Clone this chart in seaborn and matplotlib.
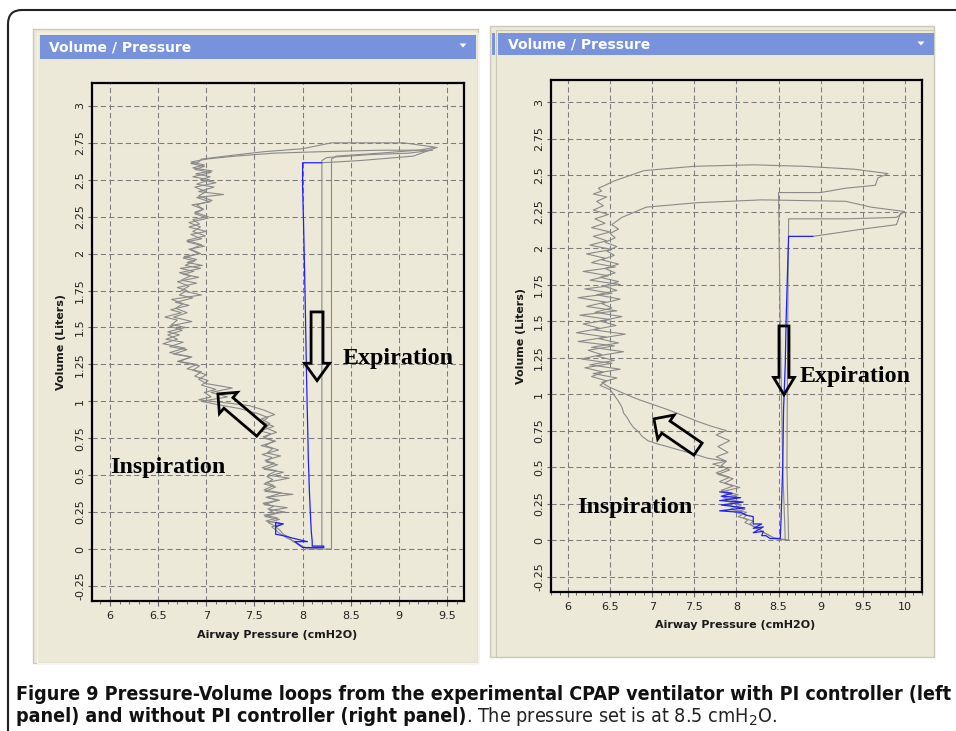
import matplotlib
matplotlib.use("Agg")
import matplotlib.pyplot as plt
import seaborn as sns
import numpy as np
from matplotlib.patches import Rectangle, FancyBboxPatch, Polygon
from matplotlib.transforms import IdentityTransform
from matplotlib.ticker import MultipleLocator

# ---------------- data (pressure cmH2O, volume L) ----------------
left_gray1_p = [8.30, 8.05, 8.00, 7.95, 7.92, 7.85, 7.80, 7.75, 7.72, 7.68,
                7.78, 7.62, 7.74, 7.60, 7.82, 7.64, 7.70, 7.59, 7.76, 7.62, 7.90, 7.61, 7.72, 7.60,
                7.69, 7.63, 7.80, 7.60, 7.74, 7.62, 7.68, 7.58, 7.75, 7.61, 7.70, 7.59, 7.73, 7.62,
                7.66, 7.57, 7.71, 7.60,
                7.45, 7.20, 6.92, 7.05, 6.98, 7.10, 6.95, 7.02,
                6.88, 6.95, 6.80, 6.90, 6.72, 6.84, 6.66, 6.80, 6.62, 6.76, 6.58, 6.72, 6.60, 6.78,
                6.64, 6.70, 6.57, 6.74, 6.63, 6.82, 6.68, 6.86, 6.72, 6.80, 6.70, 6.90, 6.74, 6.84,
                6.72, 6.94, 6.78, 6.88, 6.76, 6.92,
                6.82, 6.98, 6.80, 6.95, 6.84, 7.00, 6.82, 6.93, 6.86, 7.02, 6.88, 6.97, 6.85, 7.04,
                6.90, 7.18, 6.92, 7.08, 6.90, 7.03, 6.86, 7.05, 6.88, 6.98, 6.84, 6.92,
                6.95, 7.20, 7.60, 8.00, 8.30, 9.05, 9.38, 9.20, 8.80, 8.35, 8.30, 8.30]
left_gray1_v = [0.00, 0.00, 0.02, 0.03, 0.05, 0.07, 0.09, 0.11, 0.13, 0.15,
                0.17, 0.19, 0.21, 0.23, 0.25, 0.27, 0.29, 0.31, 0.33, 0.35, 0.37, 0.39, 0.42, 0.44,
                0.47, 0.49, 0.52, 0.54, 0.57, 0.59, 0.62, 0.64, 0.67, 0.70, 0.73, 0.76, 0.79, 0.82,
                0.85, 0.88, 0.91, 0.94,
                0.97, 0.99, 1.01, 1.03, 1.06, 1.08, 1.11, 1.14,
                1.17, 1.20, 1.22, 1.25, 1.27, 1.30, 1.32, 1.35, 1.37, 1.40, 1.42, 1.45, 1.47, 1.50,
                1.52, 1.55, 1.57, 1.60, 1.62, 1.65, 1.67, 1.70, 1.72, 1.75, 1.77, 1.80, 1.82, 1.85,
                1.87, 1.90, 1.92, 1.95, 1.97, 2.00,
                2.03, 2.05, 2.08, 2.10, 2.13, 2.15, 2.18, 2.20, 2.23, 2.25, 2.28, 2.30, 2.33, 2.35,
                2.38, 2.40, 2.42, 2.45, 2.47, 2.50, 2.52, 2.55, 2.57, 2.59, 2.61, 2.62,
                2.64, 2.66, 2.69, 2.71, 2.75, 2.75, 2.72, 2.70, 2.68, 2.66, 2.64, 0.00]

left_gray2_p = [8.20, 8.02, 7.97, 7.90, 7.86, 7.80, 7.76, 7.70,
                7.64, 7.76, 7.61, 7.72, 7.66, 7.84, 7.60, 7.74, 7.63, 7.78, 7.60, 7.70, 7.62, 7.86,
                7.64, 7.73, 7.58, 7.71, 7.61, 7.77, 7.63, 7.69, 7.57, 7.72, 7.60, 7.67, 7.56, 7.70,
                7.58, 7.64, 7.52,
                7.35, 7.10, 6.95, 7.22, 7.05, 7.27, 7.00,
                6.92, 7.00, 6.86, 6.93, 6.70, 6.85, 6.62, 6.78, 6.55, 6.70, 6.60, 6.75, 6.62, 6.85,
                6.66, 6.80, 6.68, 6.76, 6.64, 6.95, 6.74, 6.82, 6.70, 6.92, 6.76, 6.87, 6.73, 6.96,
                6.80, 6.90, 6.77, 6.94,
                6.84, 6.95, 6.80, 6.99, 6.86, 6.94, 6.82, 7.02, 6.88, 6.97, 6.90, 7.06, 6.92, 7.00,
                6.88, 7.10, 6.94, 7.04, 6.89, 7.06, 6.86, 6.98, 6.84,
                7.00, 7.30, 7.70, 8.20, 8.80, 9.35, 9.10, 8.70, 8.25, 8.20, 8.20]
left_gray2_v = [0.00, 0.01, 0.03, 0.05, 0.08, 0.10, 0.13, 0.16,
                0.18, 0.20, 0.22, 0.24, 0.26, 0.28, 0.30, 0.33, 0.35, 0.38, 0.40, 0.43, 0.45, 0.48,
                0.50, 0.53, 0.55, 0.58, 0.60, 0.63, 0.65, 0.68, 0.70, 0.73, 0.75, 0.78, 0.80, 0.83,
                0.86, 0.89, 0.92,
                0.95, 0.98, 1.00, 1.03, 1.06, 1.09, 1.12,
                1.15, 1.18, 1.21, 1.24, 1.27, 1.30, 1.33, 1.36, 1.39, 1.42, 1.45, 1.48, 1.51, 1.54,
                1.57, 1.60, 1.63, 1.66, 1.69, 1.72, 1.75, 1.78, 1.81, 1.84, 1.86, 1.88, 1.90, 1.92,
                1.94, 1.96, 1.98, 2.00,
                2.03, 2.06, 2.09, 2.12, 2.15, 2.18, 2.21, 2.24, 2.27, 2.30, 2.33, 2.36, 2.39, 2.42,
                2.45, 2.48, 2.50, 2.52, 2.54, 2.56, 2.58, 2.60, 2.62,
                2.64, 2.66, 2.68, 2.69, 2.70, 2.70, 2.68, 2.67, 2.65, 2.63, 0.00]

left_gray3_p = [9.40, 9.15, 8.60, 8.20]
left_gray3_v = [2.72, 2.66, 2.63, 2.615]

left_blue_p = [8.20, 8.00, 8.00, 8.01, 8.02, 8.03, 8.04, 8.05, 8.06, 8.07, 8.08, 8.09, 8.10, 8.10,
               8.22, 8.22, 8.00, 7.92, 8.05, 7.92, 7.86, 7.80, 7.72, 7.72, 7.80, 7.72]
left_blue_v = [2.615, 2.615, 2.45, 2.20, 1.90, 1.57, 1.20, 0.90, 0.60, 0.40, 0.25, 0.12, 0.05, 0.02,
               0.02, 0.01, 0.01, 0.05, 0.05, 0.07, 0.08, 0.09, 0.10, 0.18, 0.17, 0.15]

right_gray1_p = [8.58, 8.45, 8.40, 8.33, 8.28, 8.22, 8.16, 8.20, 8.08, 8.12, 7.98, 8.10, 7.90, 8.06,
                 7.84, 8.02, 7.82, 7.96, 7.80, 7.92, 7.76, 7.90, 7.72, 7.88, 7.66,
                 7.55, 7.42, 7.30, 7.18, 7.05, 6.95, 6.88, 6.84, 6.78, 6.74, 6.70, 6.66, 6.64, 6.60,
                 6.55, 6.50,
                 6.38, 6.46, 6.28, 6.42, 6.20, 6.52, 6.16, 6.40, 6.24, 6.55, 6.12, 6.46, 6.10, 6.38,
                 6.18, 6.50, 6.14, 6.58, 6.22, 6.45, 6.12, 6.52, 6.20, 6.62, 6.26, 6.48, 6.18, 6.56,
                 6.28, 6.44, 6.22, 6.52, 6.26, 6.46, 6.30, 6.50, 6.28, 6.44, 6.32, 6.48, 6.30, 6.42,
                 6.34, 6.46, 6.30, 6.40, 6.36, 6.44,
                 6.55, 6.90, 7.50, 8.20, 8.80, 9.40, 9.80, 9.68, 9.65, 9.30, 9.00, 8.50, 8.52, 8.55,
                 8.58]
right_gray1_v = [0.00, 0.01, 0.03, 0.05, 0.07, 0.09, 0.11, 0.13, 0.15, 0.17, 0.19, 0.21, 0.24, 0.26,
                 0.29, 0.31, 0.34, 0.37, 0.40, 0.43, 0.46, 0.49, 0.52, 0.54, 0.56,
                 0.58, 0.60, 0.62, 0.64, 0.66, 0.68, 0.71, 0.74, 0.77, 0.80, 0.84, 0.87, 0.91, 0.95,
                 0.99, 1.03,
                 1.06, 1.09, 1.12, 1.15, 1.18, 1.21, 1.24, 1.27, 1.30, 1.33, 1.36, 1.39, 1.42, 1.45,
                 1.48, 1.51, 1.54, 1.57, 1.60, 1.63, 1.66, 1.69, 1.72, 1.75, 1.78, 1.81, 1.84, 1.87,
                 1.90, 1.93, 1.96, 1.99, 2.02, 2.05, 2.08, 2.11, 2.14, 2.17, 2.20, 2.23, 2.26, 2.29,
                 2.32, 2.35, 2.37, 2.39, 2.41, 2.43,
                 2.46, 2.53, 2.56, 2.57, 2.56, 2.54, 2.51, 2.48, 2.43, 2.41, 2.38, 2.38, 1.50, 0.50,
                 0.00]

right_gray2_p = [8.62, 8.50, 8.42, 8.36, 8.30, 8.24, 8.18, 8.10, 8.14, 8.02, 8.12, 7.92, 8.06, 7.86,
                 8.00, 7.82, 8.04, 7.86, 7.96, 7.78, 7.92, 7.82, 7.88, 7.76, 7.90, 7.78, 7.92, 7.76,
                 7.88,
                 7.70, 7.55, 7.42, 7.29, 7.15, 7.00, 6.85, 6.72, 6.60, 6.48,
                 6.40, 6.58, 6.30, 6.62, 6.26, 6.55, 6.34, 6.66, 6.28, 6.60, 6.36, 6.68, 6.30, 6.57,
                 6.38, 6.64, 6.32, 6.52, 6.40, 6.62, 6.34, 6.58, 6.42, 6.60, 6.38, 6.56, 6.44, 6.60,
                 6.40, 6.55, 6.46, 6.58, 6.44, 6.56, 6.50, 6.60, 6.52,
                 6.64, 6.93, 7.52, 8.30, 9.30, 9.60, 10.00, 9.90, 9.30, 8.62, 8.61, 8.60, 8.62]
right_gray2_v = [0.00, 0.01, 0.02, 0.04, 0.06, 0.08, 0.10, 0.12, 0.14, 0.16, 0.19, 0.21, 0.24, 0.27,
                 0.30, 0.33, 0.36, 0.39, 0.42, 0.45, 0.48, 0.51, 0.54, 0.57, 0.60, 0.64, 0.68, 0.72,
                 0.75,
                 0.78, 0.81, 0.84, 0.87, 0.90, 0.93, 0.96, 0.99, 1.02, 1.05,
                 1.08, 1.11, 1.14, 1.17, 1.20, 1.23, 1.26, 1.29, 1.32, 1.35, 1.38, 1.41, 1.44, 1.47,
                 1.50, 1.53, 1.56, 1.59, 1.62, 1.65, 1.68, 1.71, 1.74, 1.77, 1.80, 1.83, 1.86, 1.89,
                 1.92, 1.95, 1.98, 2.01, 2.04, 2.07, 2.10, 2.13, 2.16,
                 2.21, 2.28, 2.31, 2.33, 2.32, 2.28, 2.25, 2.21, 2.20, 2.20, 1.50, 0.50, 0.00]

right_gray3_p = [9.95, 9.90, 9.50, 8.91]
right_gray3_v = [2.24, 2.16, 2.13, 2.08]

right_blue_p = [8.91, 8.62, 8.61, 8.59, 8.58, 8.56, 8.55, 8.53, 8.52, 8.40, 8.35, 8.30, 8.32, 8.20,
                8.32, 8.20, 8.30, 8.20, 8.20, 8.12, 8.05, 7.80, 8.10, 7.82, 8.08, 7.80, 8.05, 7.82,
                7.95, 7.80]
right_blue_v = [2.08, 2.08, 1.90, 1.50, 1.20, 0.90, 0.50, 0.14, 0.01, 0.01, 0.03, 0.03, 0.06, 0.05,
                0.09, 0.08, 0.11, 0.11, 0.16, 0.17, 0.19, 0.20, 0.22, 0.24, 0.26, 0.27, 0.29, 0.30,
                0.32, 0.33]

left_xticks = [6, 6.5, 7, 7.5, 8, 8.5, 9, 9.5]
left_xticklabels = ["6", "6.5", "7", "7.5", "8", "8.5", "9", "9.5"]
right_xticks = [6, 6.5, 7, 7.5, 8, 8.5, 9, 9.5, 10]
right_xticklabels = ["6", "6.5", "7", "7.5", "8", "8.5", "9", "9.5", "10"]
yticks = [-0.25, 0, 0.25, 0.5, 0.75, 1, 1.25, 1.5, 1.75, 2, 2.25, 2.5, 2.75, 3]
yticklabels = ["-0.25", "0", "0.25", "0.5", "0.75", "1", "1.25", "1.5", "1.75", "2",
               "2.25", "2.5", "2.75", "3"]

panel_title = "Volume / Pressure"
xlabel = "Airway Pressure (cmH2O)"
ylabel = "Volume (Liters)"
caption_bold1 = "Figure 9 Pressure-Volume loops from the experimental CPAP ventilator with PI controller (left"
caption_bold2 = "panel) and without PI controller (right panel)"
caption_norm2 = ". The pressure set is at 8.5 cmH$_2$O."

# ---------------- figure ----------------
sns.set_style("white")
plt.rcParams['font.family'] = ['DejaVu Sans']
W, H = 956, 731
fig = plt.figure(figsize=(W / 100, H / 100), dpi=100)
fig.patch.set_facecolor("white")
ID = IdentityTransform()

BEIGE = "#ECE9D8"
HEAD = "#7893DC"
GRAY = "#8a8a8a"
BLUE = "#1f1fff"


def prect(x0, y0, x1, y1, **kw):
    return Rectangle((x0, H - y1), x1 - x0, y1 - y0, transform=ID, zorder=-5, **kw)


# rounded outer border
fig.add_artist(FancyBboxPatch((8, -30), 1000, H - 10 + 30, boxstyle="round,pad=0,rounding_size=14",
                              transform=ID, fc="none", ec="#222222", lw=1.5, zorder=-6))
# windows
fig.add_artist(prect(33, 29, 478, 663, fc=BEIGE, ec="#cdc9b8", lw=1.0))
fig.add_artist(prect(37, 33, 478, 663, fc="none", ec="#f6f4ec", lw=0.8))
fig.add_artist(prect(490, 26, 934, 657, fc=BEIGE, ec="#cdc9b8", lw=1.0))
fig.add_artist(prect(496, 30, 934, 657, fc="none", ec="#cdc9b8", lw=0.8))
fig.add_artist(prect(491.5, 33, 494.5, 55, fc=HEAD, ec="none"))
# headers
fig.add_artist(prect(40, 35, 476, 59, fc=HEAD, ec="none"))
fig.add_artist(prect(498, 33, 934, 55, fc=HEAD, ec="none"))
fig.text(49 / W, 1 - 47.5 / H, panel_title, color="white", fontsize=10, fontweight="bold",
         ha="left", va="center")
fig.text(508 / W, 1 - 44.5 / H, panel_title, color="white", fontsize=10, fontweight="bold",
         ha="left", va="center")
for cx, cy in [(463, 45.5), (921, 43.5)]:
    fig.add_artist(Polygon([[cx - 3.5, H - cy + 2], [cx + 3.5, H - cy + 2], [cx, H - cy - 2]],
                           closed=True, transform=ID, fc="white", ec="none"))


def make_axes(box, xlim, ylim, xt, xtl):
    x0, y0, x1, y1 = box
    ax = fig.add_axes((x0 / W, 1 - y1 / H, (x1 - x0) / W, (y1 - y0) / H))
    ax.set_facecolor(BEIGE)
    ax.set_xlim(*xlim)
    ax.set_ylim(*ylim)
    ax.set_xticks(xt)
    ax.set_xticklabels(xtl)
    ax.set_yticks(yticks)
    ax.set_yticklabels(yticklabels)
    ax.xaxis.set_minor_locator(MultipleLocator(0.1))
    ax.grid(True, which="major", color="#7c7c7c", ls=(0, (5, 3)), lw=0.75)
    ax.set_axisbelow(True)
    for s in ax.spines.values():
        s.set_visible(True)
        s.set_color("black")
        s.set_linewidth(1.6)
    ax.tick_params(axis="x", which="major", bottom=True, direction="out", length=3.5, width=0.8,
                   color="#666666", labelsize=8, labelcolor="#222222", pad=4)
    ax.tick_params(axis="x", which="minor", bottom=True, direction="out", length=2, width=0.7,
                   color="#666666")
    ax.tick_params(axis="y", which="major", left=True, direction="out", length=3, width=0.8,
                   color="#666666", labelsize=8, labelcolor="#222222", pad=2, labelrotation=90)
    for lab in ax.get_yticklabels():
        lab.set_va("center")
    ax.set_xlabel(xlabel, fontsize=8, fontweight="bold", color="#1a1a1a", va="center")
    ax.set_ylabel(ylabel, fontsize=8, fontweight="bold", color="#1a1a1a", va="center")
    w, h = x1 - x0, y1 - y0
    return ax, w, h


ax1, w1, h1 = make_axes((92, 83, 464, 601), (5.813, 9.676), (-0.352, 3.155), left_xticks, left_xticklabels)
ax2, w2, h2 = make_axes((551, 80, 922, 592), (5.798, 10.204), (-0.356, 3.151), right_xticks, right_xticklabels)
ax1.xaxis.set_label_coords(0.497, -34 / h1)
ax1.yaxis.set_label_coords(-31 / w1, 0.5)
ax2.xaxis.set_label_coords(0.496, -33 / h2)
ax2.yaxis.set_label_coords(-30 / w2, 0.5)

kw = dict(sort=False, estimator=None, legend=False)
sns.lineplot(x=left_gray1_p, y=left_gray1_v, ax=ax1, color=GRAY, lw=0.8, **kw)
sns.lineplot(x=left_gray2_p, y=left_gray2_v, ax=ax1, color=GRAY, lw=0.8, **kw)
sns.lineplot(x=left_gray3_p, y=left_gray3_v, ax=ax1, color=GRAY, lw=0.8, **kw)
sns.lineplot(x=left_blue_p, y=left_blue_v, ax=ax1, color=BLUE, lw=0.9, **kw)

sns.lineplot(x=right_gray1_p, y=right_gray1_v, ax=ax2, color=GRAY, lw=0.8, **kw)
sns.lineplot(x=right_gray2_p, y=right_gray2_v, ax=ax2, color=GRAY, lw=0.8, **kw)
sns.lineplot(x=right_gray3_p, y=right_gray3_v, ax=ax2, color=GRAY, lw=0.8, **kw)
sns.lineplot(x=right_blue_p, y=right_blue_v, ax=ax2, color=BLUE, lw=0.9, **kw)


def block_arrow(ax, tail, tip, tw, hw, hl):
    ax.annotate("", xy=tip, xytext=tail,
                arrowprops=dict(arrowstyle=f"simple,head_length={hl},head_width={hw},tail_width={tw}",
                                fc="none", ec="black", lw=2.0, shrinkA=0, shrinkB=0,
                                mutation_scale=10, joinstyle="miter"))


block_arrow(ax1, (8.15, 1.605), (8.15, 1.14), 0.86, 1.8, 1.25)
block_arrow(ax1, (7.57, 0.80), (7.12, 1.05), 1.0, 2.0, 1.0)
block_arrow(ax2, (8.565, 1.466), (8.565, 0.995), 0.72, 1.5, 1.25)
block_arrow(ax2, (7.544, 0.623), (7.02, 0.83), 1.05, 2.1, 1.05)

tkw = dict(fontfamily=["Liberation Serif", "DejaVu Serif"], fontweight="bold", fontsize=17.3,
           ha="left", va="center", color="black")
ax1.text(6.0, 0.552, "Inspiration", **tkw)
ax1.text(8.42, 1.29, "Expiration", **tkw)
ax2.text(6.11, 0.226, "Inspiration", **tkw)
ax2.text(8.755, 1.118, "Expiration", **tkw)

# caption
cfam = ["DejaVu Sans"]
t1 = fig.text(16 / W, 1 - 700.5 / H, caption_bold1, fontfamily=cfam, fontweight="bold",
              fontstretch="condensed", fontsize=12.4, ha="left", va="baseline", color="#111111")
r = fig.canvas.get_renderer()
bb = t1.get_window_extent(r)
scale = (950 - 16) / bb.width
fs = 12.4 * scale
t1.set_fontsize(fs)
t2 = fig.text(16 / W, 1 - 721.5 / H, caption_bold2, fontfamily=cfam, fontweight="bold",
              fontstretch="condensed", fontsize=fs, ha="left", va="baseline", color="#111111")
bb2 = t2.get_window_extent(r)
fig.text(bb2.x1 / W, 1 - 721.5 / H, caption_norm2, fontfamily=cfam, fontweight="normal",
         fontstretch="condensed", fontsize=fs, ha="left", va="baseline", color="#222222")

fig.savefig("out.png", dpi=100, facecolor="white")
